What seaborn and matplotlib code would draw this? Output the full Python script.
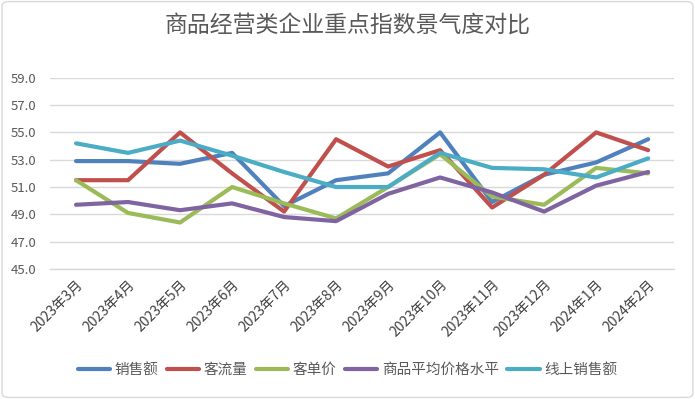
import matplotlib
matplotlib.use("Agg")
import matplotlib.pyplot as plt
import seaborn as sns
import pandas as pd
import numpy as np
from matplotlib.patches import FancyBboxPatch
from matplotlib.ticker import FixedLocator

sns.set_theme(style="white")
plt.rcParams['font.family'] = ['Noto Sans CJK SC', 'DejaVu Sans']

months = ["2023年3月", "2023年4月", "2023年5月", "2023年6月", "2023年7月", "2023年8月",
          "2023年9月", "2023年10月", "2023年11月", "2023年12月", "2024年1月", "2024年2月"]
series_names = ["销售额", "客流量", "客单价", "商品平均价格水平", "线上销售额"]
sales = [52.9, 52.9, 52.7, 53.5, 49.6, 51.5, 52.0, 55.0, 49.9, 51.9, 52.8, 54.5]
traffic = [51.5, 51.5, 55.0, 52.0, 49.2, 54.5, 52.5, 53.7, 49.5, 51.9, 55.0, 53.7]
unit_price = [51.5, 49.1, 48.4, 51.0, 49.8, 48.7, 51.0, 53.4, 50.3, 49.7, 52.4, 52.0]
avg_price = [49.7, 49.9, 49.3, 49.8, 48.8, 48.5, 50.5, 51.7, 50.6, 49.2, 51.1, 52.1]
online_sales = [54.2, 53.5, 54.4, 53.3, 52.1, 51.0, 51.0, 53.5, 52.4, 52.3, 51.7, 53.1]
yticks = [45.0, 47.0, 49.0, 51.0, 53.0, 55.0, 57.0, 59.0]
colors = ["#4F81BD", "#C0504D", "#9BBB59", "#8064A2", "#4BACC6"]

values = [sales, traffic, unit_price, avg_price, online_sales]
df = pd.DataFrame({
    "month": np.tile(np.arange(len(months)), len(series_names)),
    "series": np.repeat(series_names, len(months)),
    "value": np.concatenate(values),
})

fig = plt.figure(figsize=(6.95, 3.99), dpi=100)
ax = fig.add_axes([0.072, 0.326, 0.898, 0.479])

sns.lineplot(data=df, x="month", y="value", hue="series", hue_order=series_names,
             palette=colors, linewidth=3, ax=ax, sort=False)

ax.set_ylim(yticks[0], yticks[-1])
ax.set_xlim(-0.5, len(months) - 0.5)
ax.set_yticks(yticks)
ax.set_yticklabels([f"{v:.1f}" for v in yticks], fontsize=9.5, color="#595959")
ax.yaxis.grid(True, color="#D9D9D9", linewidth=1)
ax.set_axisbelow(True)
ax.set_xticks(range(len(months)))
ax.set_xticklabels(months, rotation=45, ha="right", rotation_mode="anchor",
                   fontsize=10, color="#404040")
ax.xaxis.set_minor_locator(FixedLocator(np.arange(-0.5, len(months), 1.0)))
ax.tick_params(axis="x", which="major", length=0, pad=6)
ax.tick_params(axis="x", which="minor", length=5, color="#D9D9D9", width=1, direction="out")
ax.tick_params(axis="y", length=0, pad=10)
ax.set_xlabel("")
ax.set_ylabel("")
for s in ["top", "right", "left"]:
    ax.spines[s].set_visible(False)
ax.spines["bottom"].set_color("#D9D9D9")
ax.spines["bottom"].set_linewidth(1)

handles, labels = ax.get_legend_handles_labels()
ax.legend(handles, labels, loc="center", bbox_to_anchor=(0.5, 1 - 370 / 399),
          bbox_transform=fig.transFigure, ncol=5, frameon=False, fontsize=10.5,
          handlelength=2.2, columnspacing=0.6, handletextpad=0.3,
          labelcolor="#595959")

fig.text(0.5, 1 - 26 / 399, "商品经营类企业重点指数景气度对比", ha="center", va="center",
         fontsize=16.5, color="#595959")

border = FancyBboxPatch((0.003, 0.004), 0.994, 0.992, boxstyle="round,pad=0,rounding_size=0.01",
                        transform=fig.transFigure, facecolor="none", edgecolor="#D9D9D9",
                        linewidth=1)
fig.patches.append(border)

fig.savefig("out.png", dpi=100)
